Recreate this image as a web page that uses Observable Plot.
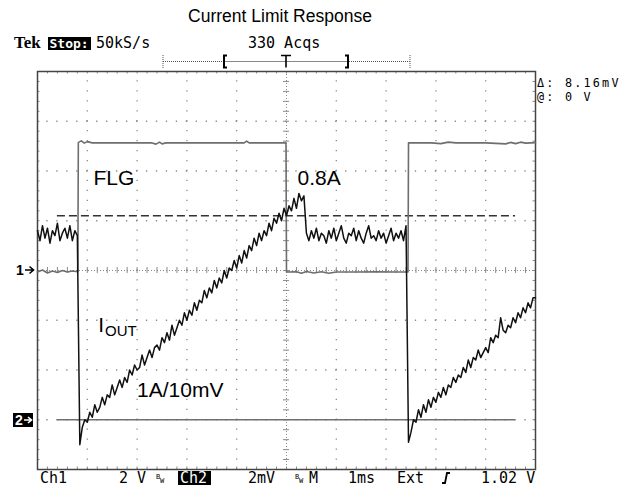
<!DOCTYPE html>
<html><head><meta charset="utf-8">
<script src="https://cdn.jsdelivr.net/npm/d3@7"></script>
<script src="https://cdn.jsdelivr.net/npm/@observablehq/plot@0.6"></script>
<style>
html,body{margin:0;padding:0;background:#fff;}
#wrap{position:relative;width:636px;height:488px;overflow:hidden;background:#fff;}
#chart{position:absolute;left:0;top:0;}
#title{position:absolute;left:0;top:7px;width:560px;text-align:center;font-family:"Liberation Sans",Arial,sans-serif;font-size:17.5px;line-height:18px;color:#000;}
</style></head><body>
<div id="wrap"><div id="chart"></div><div id="title">Current Limit Response</div></div>
<script>
// ---------- DATA ----------
// Ch2 current samples (A), one every 0.05 ms from -5 ms to +5 ms
const sampleStartMs = -5;
const sampleStepMs = 0.05;
const ioutA = [
 0.76,0.72,0.78,0.73,0.77,0.71,0.76,0.74,0.79,0.72,0.75,0.77,0.73,0.78,0.72,0.76,0.74,
 -0.10,
 -0.03,0.00,-0.01,0.03,0.01,0.06,0.03,0.05,0.09,0.06,
 0.10,0.09,0.14,0.10,0.13,0.16,0.13,0.17,0.15,0.20,
 0.18,0.22,0.20,0.21,0.26,0.22,0.25,0.28,0.25,0.29,
 0.30,0.28,0.33,0.31,0.35,0.32,0.38,0.34,0.37,0.40,
 0.38,0.43,0.40,0.44,0.42,0.47,0.44,0.48,0.47,0.52,
 0.49,0.53,0.51,0.56,0.53,0.57,0.55,0.60,0.57,0.61,
 0.60,0.64,0.61,0.66,0.63,0.68,0.65,0.70,0.68,0.73,
 0.70,0.75,0.72,0.76,0.74,0.79,0.76,0.81,0.79,0.83,
 0.80,0.85,0.82,0.86,0.84,0.89,0.85,0.91,0.88,0.90,
 0.75,0.72,0.76,0.73,0.77,0.72,0.75,0.74,0.71,0.76,0.73,0.77,0.72,0.75,0.78,0.73,0.71,0.75,0.74,0.77,
 0.72,0.76,0.73,0.71,0.75,0.78,0.73,0.74,0.72,0.76,0.73,0.75,0.71,0.74,0.77,0.72,0.75,0.73,0.76,0.72,0.78,
 -0.09,
 -0.05,0.00,-0.01,0.04,0.01,0.06,0.03,0.08,0.05,0.09,
 0.07,0.11,0.09,0.13,0.10,0.14,0.13,0.17,0.15,0.18,
 0.17,0.21,0.19,0.24,0.21,0.25,0.24,0.28,0.25,0.27,
 0.29,0.27,0.33,0.31,0.34,0.33,0.41,0.36,0.35,0.38,
 0.37,0.41,0.39,0.43,0.41,0.45,0.43,0.47,0.45,0.49,
 0.49
];
// Ch1 FLG voltage (V) at times (ms)
const flgT = [-5.00,-4.90,-4.80,-4.70,-4.60,-4.50,-4.40,-4.30,-4.19,-4.18,-4.12,-4.06,-4.00,-3.90,-3.20,-2.70,-2.62,-2.55,-2.50,-2.42,-1.80,-0.85,-0.80,-0.75,-0.01,0.00,0.20,0.30,0.40,0.55,0.70,0.85,1.00,1.40,1.80,2.20,2.44,2.45,2.90,3.10,3.25,3.40,4.00,4.40,4.50,4.60,4.70,4.80,5.00];
const flgV = [-0.06,0.02,-0.10,-0.02,-0.08,0.00,-0.06,-0.02,-0.05,5.15,5.21,5.12,5.18,5.13,5.13,5.13,5.08,5.16,5.09,5.13,5.13,5.13,5.20,5.13,5.13,-0.06,-0.05,-0.11,-0.04,-0.10,-0.05,-0.11,-0.06,-0.06,-0.05,-0.06,-0.06,5.13,5.13,5.10,5.16,5.13,5.13,5.09,5.15,5.10,5.16,5.12,5.14];
// scope settings
const ch1VoltsPerDiv = 2;      // Ch1 2 V/div
const ch2AmpsPerDiv = 0.2;     // Ch2 2 mV/div at 1A/10mV
const ch1GroundDiv = 0;        // "1→" marker
const ch2GroundDiv = -3;       // "2→" marker
const limitA = 0.82;           // dashed current-limit level
const refSpanMs = [-4.6, 4.6]; // extent of reference lines
// annotations (text, time ms, division, size)
const labelText = ["FLG", "0.8A", "I", "OUT", "1A/10mV"];
const labelMs   = [-3.875, 0.22, -3.78, -3.645, -3.0];
const labelDiv  = [1.85, 1.86, -1.106, -1.216, -2.406];
const labelSize = [21, 21, 21, 15, 21];
// graticule
const divsX = [-4,-3,-2,-1,1,2,3,4];
const divsY = [-3,-2,-1,1,2,3];
const minorX = d3.range(-25, 26).map(i => i / 5);
const minorY = d3.range(-20, 21).map(i => i / 5);

// ---------- BUILD ----------
const iout = ioutA.map((a, i) => ({t: sampleStartMs + i * sampleStepMs, div: ch2GroundDiv + a / ch2AmpsPerDiv}));
const flg = flgT.map((t, i) => ({t, div: ch1GroundDiv + flgV[i] / ch1VoltsPerDiv}));
const labels = labelText.map((s, i) => ({s, t: labelMs[i], div: labelDiv[i], size: labelSize[i]}));
const grid = "#8a8a8a";

const chart = Plot.plot({
  width: 636, height: 488,
  marginLeft: 37, marginRight: 101, marginTop: 71, marginBottom: 19,
  x: {domain: [-5, 5], axis: null},
  y: {domain: [-4, 4], axis: null},
  style: {background: "transparent", overflow: "visible"},
  marks: [
    Plot.ruleX(divsX, {stroke: grid, strokeWidth: 1.3, strokeDasharray: "1.3,8.65", strokeDashoffset: 0.65}),
    Plot.ruleY(divsY, {stroke: grid, strokeWidth: 1.3, strokeDasharray: "1.3,8.66", strokeDashoffset: 0.65}),
    Plot.ruleX([0], {stroke: grid, strokeWidth: 1, strokeDasharray: "1,2"}),
    Plot.ruleY([0], {stroke: grid, strokeWidth: 1, strokeDasharray: "1,2"}),
    Plot.ruleY(minorY, {y: d => d, x1: () => -0.06, x2: () => 0.06, stroke: grid, strokeWidth: 1}),
    Plot.ruleX(minorX, {x: d => d, y1: () => -0.06, y2: () => 0.06, stroke: grid, strokeWidth: 1}),
    Plot.ruleX(minorX, {x: d => d, y1: () => 4, y2: () => 3.95, stroke: grid, strokeWidth: 1}),
    Plot.ruleX(minorX, {x: d => d, y1: () => -4, y2: () => -3.95, stroke: grid, strokeWidth: 1}),
    Plot.ruleY(minorY, {y: d => d, x1: () => -5, x2: () => -4.95, stroke: grid, strokeWidth: 1}),
    Plot.ruleY(minorY, {y: d => d, x1: () => 5, x2: () => 4.95, stroke: grid, strokeWidth: 1}),
    Plot.frame({stroke: "#444", strokeWidth: 1.5}),
    Plot.ruleY([ch2GroundDiv], {x1: () => refSpanMs[0], x2: () => refSpanMs[1], stroke: "#707070", strokeWidth: 1.6}),
    Plot.ruleY([limitA], {y: a => ch2GroundDiv + a / ch2AmpsPerDiv, x1: () => refSpanMs[0], x2: () => refSpanMs[1], stroke: "#333", strokeWidth: 1.5, strokeDasharray: "8,4"}),
    Plot.line(flg, {x: "t", y: "div", stroke: "#6e6e6e", strokeWidth: 1.6}),
    Plot.line(iout, {x: "t", y: "div", stroke: "#111", strokeWidth: 1.5}),
    Plot.text(labels, {x: "t", y: "div", text: "s", fontSize: "size", textAnchor: "start", lineAnchor: "middle", fill: "#000", fontFamily: "Liberation Sans, Arial, sans-serif"})
  ]
});
document.getElementById("chart").appendChild(chart);

// ---------- SCOPE CHROME ----------
const svg = d3.select(chart);
const mono = "DejaVu Sans Mono, monospace";
function txt(x, y, s, o = {}) {
  const e = svg.append("text").attr("x", x).attr("y", y).text(s)
    .attr("font-family", o.family || mono).attr("font-size", o.size || 15)
    .attr("font-weight", o.weight || "normal").attr("fill", o.fill || "#000")
    .attr("text-anchor", o.anchor || "start");
  if (o.ls) e.attr("letter-spacing", o.ls);
  return e;
}
txt(14, 48, "Tek", {family: "Liberation Serif, serif", weight: "bold", size: 17});
svg.append("rect").attr("x", 48).attr("y", 37).attr("width", 43).attr("height", 13).attr("fill", "#000");
txt(49.5, 48, "Stop:", {weight: "bold", size: 13, fill: "#fff"});
txt(96, 48, "50kS/s");
txt(248, 48, "330 Acqs");
// trigger position bar
svg.append("line").attr("x1", 163).attr("x2", 410).attr("y1", 61.5).attr("y2", 61.5).attr("stroke", "#555").attr("stroke-dasharray", "1,1");
svg.append("line").attr("x1", 224).attr("x2", 348).attr("y1", 61.5).attr("y2", 61.5).attr("stroke", "#888");
[163, 410].forEach(x => svg.append("line").attr("x1", x).attr("x2", x).attr("y1", 55).attr("y2", 68).attr("stroke", "#555").attr("stroke-dasharray", "1,1"));
svg.append("path").attr("d", "M227,55.5H224V67.5H227").attr("fill", "none").attr("stroke", "#000").attr("stroke-width", 2);
svg.append("path").attr("d", "M345,55.5H348V67.5H345").attr("fill", "none").attr("stroke", "#000").attr("stroke-width", 2);
svg.append("path").attr("d", "M281,55.5H291M286,55.5V67.5").attr("fill", "none").attr("stroke", "#000").attr("stroke-width", 1.6);
// right readout
txt(537, 87, "Δ: 8.16mV", {size: 11.8, ls: 2.2});
txt(537, 101, "@: 0 V", {size: 11.8, ls: 2.2});
// channel markers
txt(16, 275, "1", {family: "Liberation Sans, Arial, sans-serif", weight: "bold", size: 14});
svg.append("path").attr("d", "M25,270H33M29.5,266.5L33.5,270L29.5,273.5").attr("fill", "none").attr("stroke", "#000").attr("stroke-width", 1.6);
svg.append("rect").attr("x", 13).attr("y", 413).attr("width", 20).attr("height", 14).attr("fill", "#000");
txt(15, 425, "2", {family: "Liberation Sans, Arial, sans-serif", weight: "bold", size: 14, fill: "#fff"});
svg.append("path").attr("d", "M24,420H31M28,417L31.5,420L28,423").attr("fill", "none").attr("stroke", "#fff").attr("stroke-width", 1.6);
// bottom status line
txt(40, 483, "Ch1");
txt(119, 483, "2 V");
txt(156, 479, "B", {size: 7}); txt(160, 483, "W", {size: 7});
svg.append("rect").attr("x", 178).attr("y", 471).attr("width", 33).attr("height", 14).attr("fill", "#000");
txt(180, 483, "Ch2", {fill: "#fff"});
txt(248, 483, "2mV");
txt(295, 479, "B", {size: 7}); txt(299, 483, "W", {size: 7});
txt(309, 483, "M");
txt(348, 483, "1ms");
txt(397, 483, "Ext");
svg.append("path").attr("d", "M442,483H445L447,473H450").attr("fill", "none").attr("stroke", "#000").attr("stroke-width", 1.8);
txt(481, 483, "1.02 V");
</script>
</body></html>
